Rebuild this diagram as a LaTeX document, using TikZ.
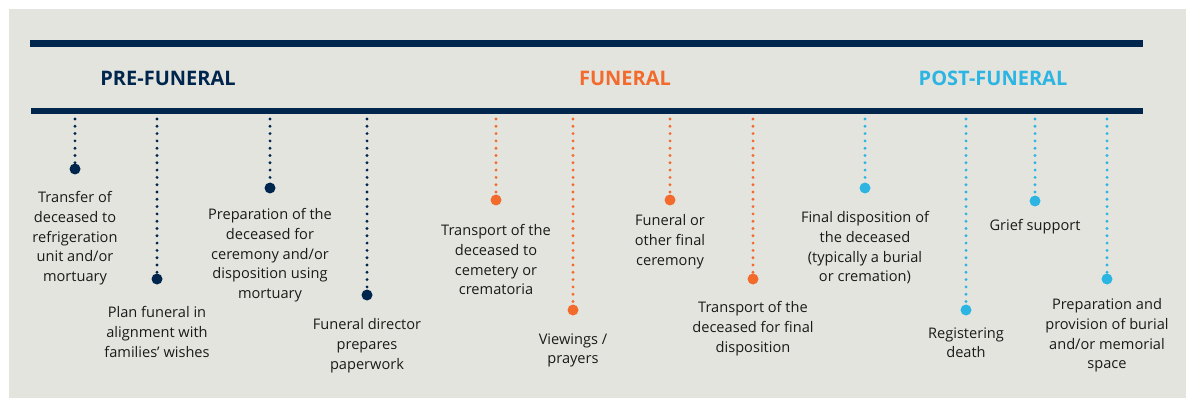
\documentclass[tikz,border=0pt]{standalone}
\usepackage{fontspec}
\setmainfont{Open Sans}
\usetikzlibrary{positioning}
\definecolor{navy}{HTML}{00264D}
\definecolor{flame}{HTML}{F26B2D}
\definecolor{sky}{HTML}{2CB5E2}
\definecolor{paper}{HTML}{E4E4DF}
\definecolor{ink}{HTML}{1A1A1A}
\tikzset{
  bar/.style      = {navy, line width=7pt},
  phase/.style    = {anchor=base, font=\fontsize{20}{24}\selectfont\bfseries},
  stepdot/.style  = {circle, fill=#1, inner sep=0pt, minimum size=11pt},
  stem/.style     = {#1, line width=3.2pt, dash pattern=on 0pt off 7.3pt,
                     line cap=round},
  steptext/.style = {align=center, inner sep=0pt, text=ink,
                     font=\fontsize{14.6}{19.8}\selectfont},
}

\begin{document}
\begin{tikzpicture}[x=1pt, y=-1pt]
  % frame
  \fill[white] (0,0) rectangle (1186,398);
  \fill[paper] (9,9) rectangle (1186,398);
  \useasboundingbox (0,0) rectangle (1186,398);

  % bars
  \coordinate (topL) at (30,44);
  \coordinate (topR) at (1143,44);
  \coordinate (botL) at (31,111);
  \coordinate (botR) at (1143,111);
  \draw[bar] (topL) -- (topR);
  \draw[bar, line width=6pt] (botL) -- (botR);

  % phase titles
  \node[phase, text=navy]  (pre)  at (168,86) {PRE-FUNERAL};
  \node[phase, text=flame] (fun)  at (625,86) {FUNERAL};
  \node[phase, text=sky]   (post) at (993,86) {POST-FUNERAL};

  % steps: name/x/dot y/gap/colour/text
  \foreach \n/\x/\y/\g/\col/\txt in {
      s1/75/169/16.5/navy/{Transfer of\\deceased to\\refrigeration\\unit and/or\\mortuary},
      s2/157/279/21.5/navy/{Plan funeral in\\alignment with\\families' wishes},
      s3/270/188/14.5/navy/{Preparation of the\\deceased for\\ceremony and/or\\disposition using\\mortuary},
      s4/367/295/17.5/navy/{Funeral director\\prepares\\paperwork},
      s5/496/200/18.5/flame/{Transport of the\\deceased to\\cemetery or\\crematoria},
      s6/573/310/17.5/flame/{Viewings /\\prayers},
      s7/670/200/8.5/flame/{Funeral or\\other final\\ceremony},
      s8/753/279/16.5/flame/{Transport of the\\deceased for final\\disposition},
      s9/865/188/17.5/sky/{Final disposition of\\the deceased\\(typically a burial\\or cremation)},
      s10/966/310/11.5/sky/{Registering\\death},
      s11/1035/201/12.5/sky/{Grief support},
      s12/1107/279/13.5/sky/{Preparation and\\provision of burial\\and/or memorial\\space}}{
    \coordinate (\n top) at (\x,119);
    \node[stepdot=\col] (\n) at (\x,\y) {};
    \draw[stem=\col] (\n top) -- (\n.north);
    \node[steptext, anchor=north, below=\g pt of \n] (\n txt) {\txt};
  }
\end{tikzpicture}
\end{document}
